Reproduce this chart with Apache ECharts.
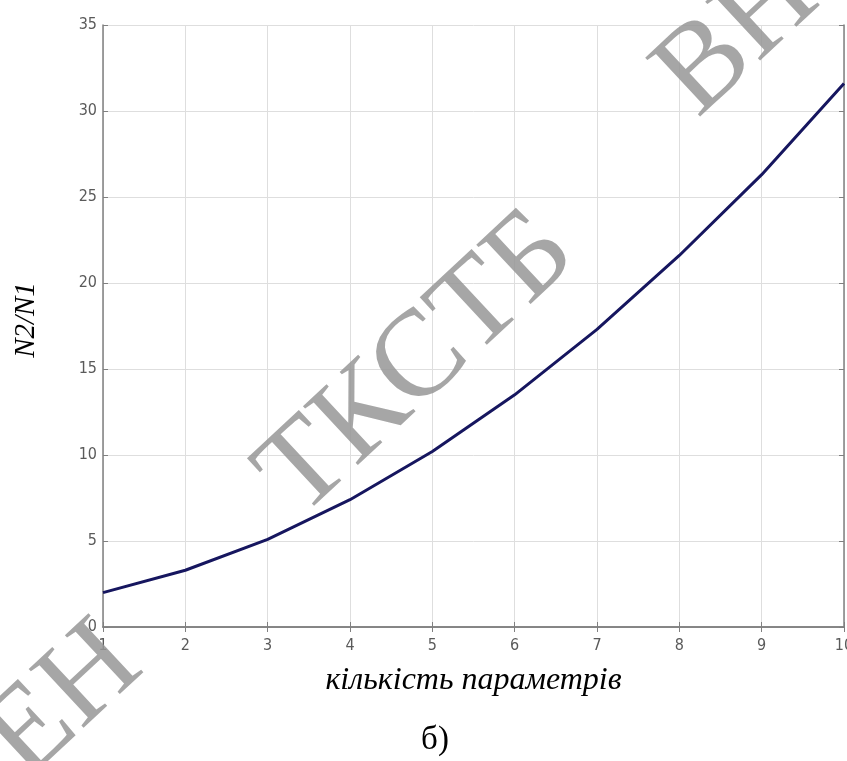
<!DOCTYPE html>
<html><head><meta charset="utf-8">
<script src="https://cdn.jsdelivr.net/npm/echarts@6/dist/echarts.min.js"></script>
<style>html,body{margin:0;padding:0;background:#fff}#c{width:847px;height:761px}</style>
</head><body><div id="c"></div>
<script>
const params = [1, 2, 3, 4, 5, 6, 7, 8, 9, 10];
const ratio = [2.0, 3.3, 5.1, 7.4, 10.2, 13.5, 17.3, 21.6, 26.3, 31.6];
const xTitle = 'кількість параметрів';
const yTitle = 'N2/N1';
const caption = 'б)';
const watermarks = ['ТКСТБ', 'ВН', 'ЕН'];

const chart = echarts.init(document.getElementById('c'));
const axisLine = {show: true, lineStyle: {color: '#808080', width: 1.5}};
const tickStyle = {show: true, inside: true, length: 5, lineStyle: {color: '#808080'}};
const labelStyle = {color: '#5a5a5a', fontFamily: '"Liberation Sans Narrow", "DejaVu Sans Condensed", "Liberation Sans", sans-serif', fontSize: 16};
const grid = {show: true, lineStyle: {color: '#dedede', width: 1}};
const wm = {fontFamily: 'Liberation Serif', fontSize: 123, fill: 'rgba(150,150,150,0.85)', textAlign: 'center', textVerticalAlign: 'middle'};
const rot = 43 * Math.PI / 180;
chart.setOption({
  animation: false,
  grid: {left: 103, right: 3, top: 25, bottom: 134, containLabel: false, outerBoundsMode: 'none'},
  xAxis: [{
    type: 'value', min: 1, max: 10, interval: 1, position: 'bottom',
    axisLine: axisLine, axisTick: tickStyle,
    axisLabel: Object.assign({margin: 11, showMinLabel: true, showMaxLabel: true}, labelStyle), splitLine: grid,
    name: xTitle, nameLocation: 'middle', nameGap: 38,
    nameTextStyle: {fontFamily: 'Liberation Serif', fontStyle: 'italic', fontSize: 32, color: '#000'}
  }, {
    type: 'value', min: 1, max: 10, interval: 1, position: 'top',
    axisLine: axisLine, axisTick: tickStyle,
    axisLabel: {show: false}, splitLine: {show: false}
  }],
  yAxis: [{
    type: 'value', min: 0, max: 35, interval: 5, position: 'left',
    axisLine: axisLine, axisTick: tickStyle,
    axisLabel: Object.assign({margin: 6}, labelStyle), splitLine: grid,
    name: yTitle, nameLocation: 'middle', nameGap: 62,
    nameTextStyle: {fontFamily: 'Liberation Serif', fontStyle: 'italic', fontSize: 29, color: '#000', padding: [0, 0, 0, 12]}
  }, {
    type: 'value', min: 0, max: 35, interval: 5, position: 'right',
    axisLine: axisLine, axisTick: tickStyle,
    axisLabel: {show: false}, splitLine: {show: false}
  }],
  series: [{
    type: 'line', xAxisIndex: 0, yAxisIndex: 0,
    data: params.map((p, i) => [p, ratio[i]]),
    showSymbol: false, smooth: false,
    lineStyle: {color: '#16165f', width: 3}
  }],
  graphic: [
    {type: 'text', x: 435, y: 740, style: {text: caption, fontFamily: 'Liberation Serif', fontSize: 33, fill: '#000', textAlign: 'center', textVerticalAlign: 'middle'}},
    {type: 'text', x: 418, y: 365, rotation: rot, z: 100, style: Object.assign({text: watermarks[0]}, wm)},
    {type: 'text', x: 738, y: 37, rotation: rot, z: 100, style: Object.assign({text: watermarks[1]}, wm)},
    {type: 'text', x: 64, y: 702, rotation: rot, z: 100, style: Object.assign({text: watermarks[2]}, wm)}
  ]
});
</script></body></html>
